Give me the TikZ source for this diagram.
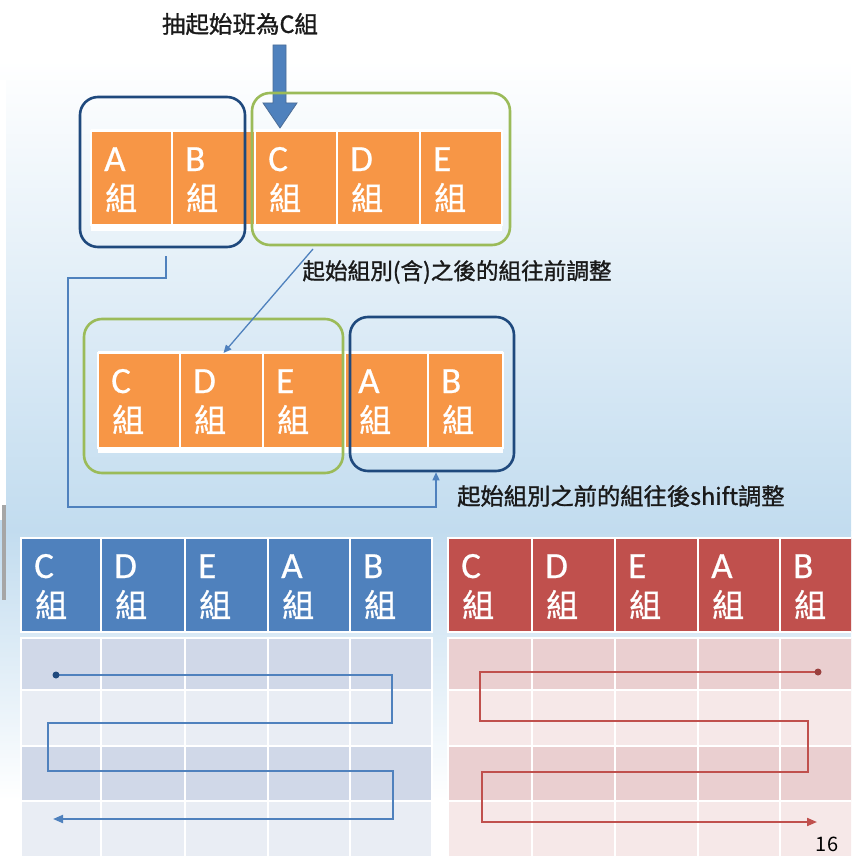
\documentclass[tikz,border=0pt]{standalone}
\usepackage{fontspec}
\newfontfamily\cjk{Noto Sans CJK TC}
\newfontfamily\cjkb[FakeBold=1.2]{Noto Sans CJK TC}
\newfontfamily\cjkz[FakeBold=0.8]{Noto Sans CJK TC}
\newfontfamily\lat[FakeBold=0.5]{Carlito}
\usetikzlibrary{arrows.meta,calc}
\definecolor{orng}{HTML}{F79646}
\definecolor{hblue}{HTML}{4F81BD}
\definecolor{hred}{HTML}{C0504D}
\definecolor{navy}{HTML}{1F497D}
\definecolor{grn}{HTML}{9BBB59}
\definecolor{bdark}{HTML}{D0D8E8}
\definecolor{blight}{HTML}{E9EDF4}
\definecolor{rdark}{HTML}{EACFD0}
\definecolor{rlight}{HTML}{F6E8E8}
\definecolor{bgblue}{HTML}{C2DCEF}
\definecolor{txt}{HTML}{1A1A1A}
\tikzset{
  gbox/.style={draw=white, line width=1.2pt, inner sep=0pt, outer sep=0pt},
  ltr/.style={text=white, font=\lat\fontsize{37}{37}\selectfont, inner sep=0pt},
  zu/.style={text=white, font=\cjkz\fontsize{32}{32}\selectfont, inner sep=0pt},
  navybox/.style={draw=navy, line width=2.6pt, rounded corners=18pt, inner sep=0pt},
  grnbox/.style={draw=grn, line width=2.6pt, rounded corners=18pt, inner sep=0pt},
  conn/.style={draw=hblue, line width=1.3pt, -{Triangle[length=8pt,width=7pt]}},
  lbl/.style={text=txt, font=\cjkb\fontsize{22.6}{22.6}\selectfont, inner sep=0pt},
  snakeb/.style={draw=hblue, line width=2pt, -{Triangle[length=10pt,width=8pt]}},
  snaker/.style={draw=hred, line width=2pt, -{Triangle[length=10pt,width=8pt]}},
}
\newcommand\gcell[7]{%
  \node[gbox, fill=#6, minimum width=#4pt, minimum height=#5pt, anchor=north west] (#1) at (#2,#3) {};
  \node[ltr, anchor=base west] (#1l) at (#2+13,#3+40) {#7};
  \node[zu, anchor=base west] (#1z) at (#2+14,#3+79) {組};
}
\begin{document}
\begin{tikzpicture}[x=1pt,y=-1pt]
\useasboundingbox (0,0) rectangle (851,856);
\clip (0,0) rectangle (851,856);
% background
\fill[white] (0,0) rectangle (851,856);
\shade[top color=white, bottom color=bgblue] (0,60) rectangle (851,530);
\shade[top color=bgblue, bottom color=white] (0,530) rectangle (851,800);
\fill[white] (0,80) rectangle (6,520);
\fill[gray!70] (2,505) rectangle (6,600);

% title and big arrow
\node[lbl, font=\cjkb\fontsize{23.5}{23.5}\selectfont] (title) at (240,24) {抽起始班為C組};
\fill[hblue, draw=navy!80, line width=0.8pt]
  (273,45) -- (286,45) -- (286,103) -- (297,103) -- (280,128) -- (263,103) -- (273,103) -- cycle;

% top row
\fill[white] (91,129) rectangle (502,231);
\gcell{ta}{91}{131}{81}{94}{orng}{A}
\gcell{tb}{172}{131}{83}{94}{orng}{B}
\gcell{tc}{255}{131}{82}{94}{orng}{C}
\gcell{td}{337}{131}{83}{94}{orng}{D}
\gcell{te}{420}{131}{82}{94}{orng}{E}
\node[navybox, minimum width=165pt, minimum height=150pt] (bb1) at (162.5,172) {};
\node[grnbox, minimum width=258pt, minimum height=152pt] (gb1) at (381,169) {};

% second row
\fill[white] (98,351) rectangle (503,453);
\gcell{sc}{98}{353}{82}{95}{orng}{C}
\gcell{sd}{180}{353}{83}{95}{orng}{D}
\gcell{se}{263}{353}{82}{95}{orng}{E}
\gcell{sa}{345}{353}{83}{95}{orng}{A}
\gcell{sb}{428}{353}{75}{95}{orng}{B}
\node[grnbox, minimum width=259pt, minimum height=154pt] (gb2) at (213.5,396) {};
\node[navybox, minimum width=164pt, minimum height=154pt] (bb2) at (432,394) {};

% connectors
\coordinate (s1) at (166,256);
\coordinate (k1) at (68,278);
\coordinate (k2) at (68,507);
\draw[conn] (s1) |- (k1) -- (k2) -| ([xshift=4pt]bb2.south);
\coordinate (s2) at (313,249);
\draw[conn] (s2) -- ([xshift=2pt]sd.north);
\node[lbl] (l1) at (457,272) {起始組別(含)之後的組往前調整};
\node[lbl, font=\cjkb\fontsize{23.3}{23.3}\selectfont, anchor=west] (l2) at (457,496) {起始組別之前的組往後shift調整};

% blue table
\foreach \l/\r [count=\i] in {21/101,101/185,185/268,268/350,350/432}{
  \fill[bdark, draw=white, line width=1.2pt] (\l,638) rectangle (\r,690);
  \fill[blight, draw=white, line width=1.2pt] (\l,690) rectangle (\r,746);
  \fill[bdark, draw=white, line width=1.2pt] (\l,746) rectangle (\r,801);
  \fill[blight, draw=white, line width=1.2pt] (\l,801) rectangle (\r,860);
}
\gcell{bc}{21}{538}{80}{94}{hblue}{C}
\gcell{bd}{101}{538}{84}{94}{hblue}{D}
\gcell{be}{185}{538}{83}{94}{hblue}{E}
\gcell{ba}{268}{538}{82}{94}{hblue}{A}
\gcell{bb}{350}{538}{82}{94}{hblue}{B}

% red table
\foreach \l/\r [count=\i] in {448/532,532/615,615/698,698/780,780/863}{
  \fill[rdark, draw=white, line width=1.2pt] (\l,638) rectangle (\r,690);
  \fill[rlight, draw=white, line width=1.2pt] (\l,690) rectangle (\r,746);
  \fill[rdark, draw=white, line width=1.2pt] (\l,746) rectangle (\r,801);
  \fill[rlight, draw=white, line width=1.2pt] (\l,801) rectangle (\r,860);
}
\gcell{rc}{448}{538}{84}{94}{hred}{C}
\gcell{rd}{532}{538}{83}{94}{hred}{D}
\gcell{re}{615}{538}{83}{94}{hred}{E}
\gcell{ra}{698}{538}{82}{94}{hred}{A}
\gcell{rb}{780}{538}{83}{94}{hred}{B}

% snakes
\coordinate (bs) at (56,675);
\coordinate (be) at (53,819);
\draw[snakeb] (bs) -- (392,675) -- (392,723) -- (48,723) -- (48,771) -- (393,771) -- (393,819) -- (be);
\fill[navy] (bs) circle (3.5pt);
\coordinate (rs) at (818,672);
\coordinate (re) at (817,822);
\draw[snaker] (rs) -- (480,672) -- (480,721) -- (808,721) -- (808,772) -- (482,772) -- (482,822) -- (re);
\fill[hred!80!black] (rs) circle (3.5pt);

\node[text=black, font=\cjk\fontsize{20}{20}\selectfont, inner sep=0pt] (pg) at (827,844) {16};
\end{tikzpicture}
\end{document}
